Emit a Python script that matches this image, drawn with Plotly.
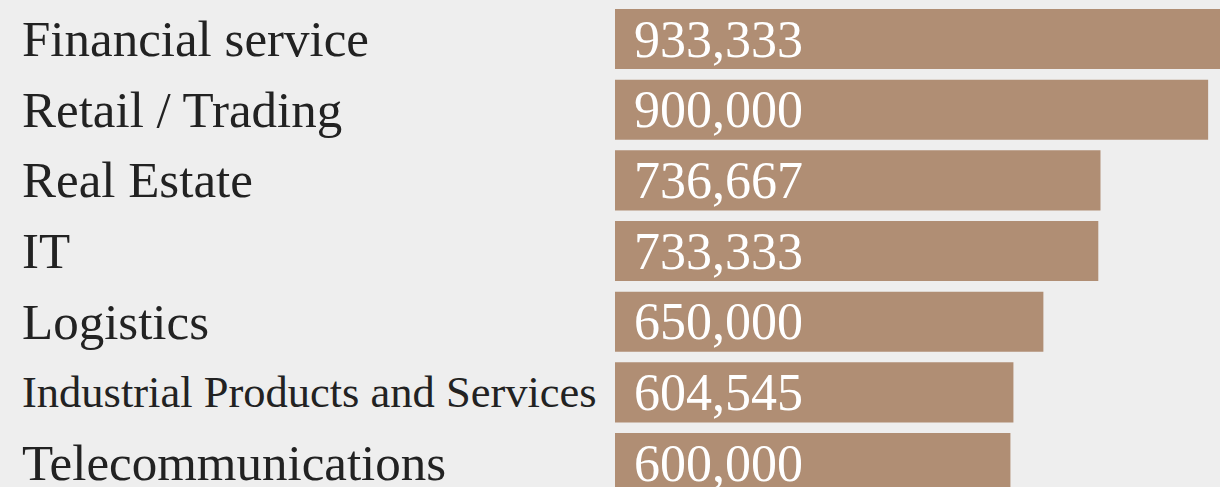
import plotly.graph_objects as go

industries = ["Financial service", "Retail / Trading", "Real Estate", "IT", "Logistics",
              "Industrial Products and Services", "Telecommunications"]
salaries = [933333, 900000, 736667, 733333, 650000, 604545, 600000]
label_sizes = [51, 51, 51, 51, 51, 44.5, 51]

bg = "#eeeeee"
bar_color = "#b08e74"
font_name = "Liberation Serif"

fig = go.Figure()
fig.add_trace(go.Bar(
    x=salaries,
    y=industries,
    orientation="h",
    width=0.85,
    marker=dict(color=bar_color, line=dict(width=0)),
    hoverinfo="skip",
))

# category names on the left, value inside each bar
for name, val, fs in zip(industries, salaries, label_sizes):
    fig.add_annotation(x=-0.9835, xref="paper", y=name, yref="y",
                       text=name, showarrow=False, xanchor="left", yanchor="middle",
                       font=dict(family=font_name, size=fs, color="#222222"))
    fig.add_annotation(x=0, xref="x", y=name, yref="y", xshift=17,
                       text=f"{val:,}", showarrow=False, xanchor="left", yanchor="middle",
                       font=dict(family=font_name, size=52, color="#ffffff"))

fig.update_layout(
    width=1220, height=487,
    margin=dict(l=615, r=0, t=0, b=0),
    paper_bgcolor=bg, plot_bgcolor=bg,
    showlegend=False,
    xaxis=dict(range=[0, 918000], visible=False, fixedrange=True),
    yaxis=dict(type="category", categoryarray=industries, range=[6.339, -0.552],
               visible=False, fixedrange=True),
)

fig.write_html("out.html", config={"displayModeBar": False},
               post_script="document.body.style.margin='0';document.body.style.background='#eeeeee';")
